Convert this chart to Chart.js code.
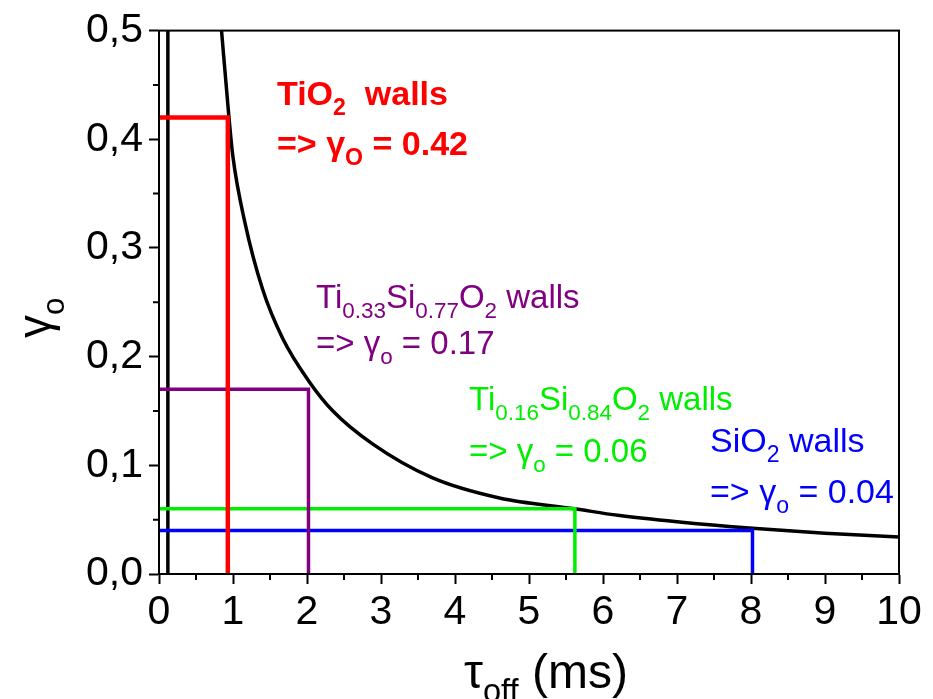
<!DOCTYPE html>
<html>
<head>
<meta charset="utf-8">
<script src="https://cdn.jsdelivr.net/npm/chart.js@4/dist/chart.umd.min.js"></script>
<style>
  html, body { margin: 0; padding: 0; background: #fff; }
  #wrap { width: 933px; height: 699px; }
</style>
</head>
<body>
<div id="wrap"><canvas id="gammaChart" width="933" height="699"></canvas></div>
<script>
// decay curve gamma_o vs tau_off (ms)
const curveTau   = [0.845, 0.934, 0.997, 1.159, 1.40, 1.67, 2.03, 2.35, 2.88, 3.69, 4.6, 5.62, 6.2, 7.0, 8.02, 9.0, 10.0];
const curveGamma = [0.5, 0.429, 0.385, 0.324, 0.262, 0.217, 0.177, 0.150, 0.120, 0.0887, 0.070, 0.060, 0.054, 0.048, 0.042, 0.0375, 0.034];

// left branch (near-vertical)
const edgeTau   = [0.12, 0.12];
const edgeGamma = [0, 0.5];

// read-off points for each wall material
const wallNames  = ["TiO2", "Ti0.33Si0.77O2", "Ti0.16Si0.84O2", "SiO2"];
const wallTau    = [0.93, 2.02, 5.62, 8.02];
const wallGamma  = [0.42, 0.17, 0.06, 0.04];
const wallColors = ["#ff0000", "#800080", "#00ee00", "#0000ff"];

const xTicks = [0, 1, 2, 3, 4, 5, 6, 7, 8, 9, 10];
const yTicks = [0, 0.1, 0.2, 0.3, 0.4, 0.5];

const FONT = "'Liberation Sans', Arial, sans-serif";

function pts(xs, ys) {
    return xs.map((x, i) => ({ x: x, y: ys[i] }));
}

const datasets = [];

wallTau.forEach((t, i) => {
    datasets.push({
        data: pts([0, t, t], [wallGamma[i], wallGamma[i], 0]),
        borderColor: wallColors[i],
        borderWidth: i === 0 ? 4.5 : 3.5,
        showLine: true,
        pointRadius: 0,
        tension: 0
    });
});

datasets.push({
    data: pts(edgeTau, edgeGamma),
    borderColor: "#000",
    borderWidth: 3.5,
    showLine: true,
    pointRadius: 0
});

datasets.push({
    data: pts(curveTau, curveGamma),
    borderColor: "#000",
    borderWidth: 3.5,
    showLine: true,
    pointRadius: 0,
    cubicInterpolationMode: "monotone"
});

// text runs: [text, isSub]
function drawRuns(ctx, x, y, runs, size, bold, color) {
    const w = bold ? "bold " : "";
    ctx.fillStyle = color;
    ctx.textBaseline = "alphabetic";
    ctx.textAlign = "left";
    runs.forEach(r => {
        const sub = r[1];
        const s = sub ? size * 0.68 : size;
        ctx.font = w + s + "px " + FONT;
        ctx.fillText(r[0], x, y + (sub ? size * 0.3 : 0));
        x += ctx.measureText(r[0]).width;
    });
}

function nameRuns(name) {
    // split chemical formula into normal / subscript parts
    const out = [];
    const re = /([A-Z][a-z]?)([0-9.]*)/g;
    let m;
    while ((m = re.exec(name)) !== null) {
        out.push([m[1], false]);
        if (m[2]) out.push([m[2], true]);
    }
    return out;
}

const labelPos = [
    { x: 277, y1: 105, y2: 155, size: 34, bold: true, gap: "  ", sub: "O" },
    { x: 316, y1: 308, y2: 354, size: 33, bold: false, gap: " ", sub: "o" },
    { x: 469, y1: 410, y2: 462, size: 33, bold: false, gap: " ", sub: "o" },
    { x: 710, y1: 452, y2: 503, size: 34, bold: false, gap: " ", sub: "o" }
];

const annotate = {
    id: "annotate",
    afterDraw(chart) {
        const ctx = chart.ctx;
        const a = chart.chartArea;
        const xs = chart.scales.x;
        const ys = chart.scales.y;
        ctx.save();

        // frame
        ctx.strokeStyle = "#000";
        ctx.lineWidth = 2;
        ctx.strokeRect(a.left, a.top, a.right - a.left, a.bottom - a.top);

        // minor ticks
        ctx.lineWidth = 2;
        ctx.beginPath();
        for (let v = 0.5; v < 10; v += 1) {
            const px = xs.getPixelForValue(v);
            ctx.moveTo(px, a.bottom);
            ctx.lineTo(px, a.bottom + 6);
        }
        for (let v = 0.05; v < 0.5; v += 0.1) {
            const py = ys.getPixelForValue(v);
            ctx.moveTo(a.left, py);
            ctx.lineTo(a.left - 6, py);
        }
        ctx.stroke();

        // wall labels
        labelPos.forEach((p, i) => {
            const runs = nameRuns(wallNames[i]);
            runs.push([p.gap + "walls", false]);
            drawRuns(ctx, p.x, p.y1, runs, p.size, p.bold, wallColors[i]);
            drawRuns(ctx, p.x, p.y2, [
                ["=> \u03b3", false],
                [p.sub, true],
                [" = " + wallGamma[i].toFixed(2), false]
            ], p.size, p.bold, wallColors[i]);
        });

        // axis titles
        drawRuns(ctx, 464, 688, [["\u03c4", false], ["off", true], [" (ms)", false]], 48, false, "#000");

        ctx.translate(50, 338);
        ctx.rotate(-Math.PI / 2);
        drawRuns(ctx, 0, 0, [["\u03b3", false], ["o", true]], 46, false, "#000");

        ctx.restore();
    }
};

new Chart(document.getElementById("gammaChart"), {
    type: "scatter",
    data: { datasets: datasets },
    options: {
        responsive: false,
        animation: false,
        layout: { padding: { top: 27, right: 34, left: 0, bottom: 0 } },
        plugins: {
            legend: { display: false },
            tooltip: { enabled: false }
        },
        scales: {
            x: {
                type: "linear",
                min: 0,
                max: 10,
                afterFit(s) { s.height = 125; },
                afterBuildTicks(s) { s.ticks = xTicks.map(v => ({ value: v })); },
                ticks: {
                    color: "#000",
                    padding: 4,
                    font: { family: FONT, size: 41 },
                    callback: v => String(v)
                },
                grid: {
                    drawOnChartArea: false,
                    color: "#000",
                    tickLength: 10,
                    tickWidth: 2
                },
                border: { color: "#000", width: 2 }
            },
            y: {
                type: "linear",
                min: 0,
                max: 0.5,
                afterFit(s) { s.width = 159; },
                afterBuildTicks(s) { s.ticks = yTicks.map(v => ({ value: v })); },
                ticks: {
                    color: "#000",
                    padding: 6,
                    font: { family: FONT, size: 41 },
                    callback: v => v.toFixed(1).replace(".", ",")
                },
                grid: {
                    drawOnChartArea: false,
                    color: "#000",
                    tickLength: 10,
                    tickWidth: 2
                },
                border: { color: "#000", width: 2 }
            }
        }
    },
    plugins: [annotate]
});
</script>
</body>
</html>
